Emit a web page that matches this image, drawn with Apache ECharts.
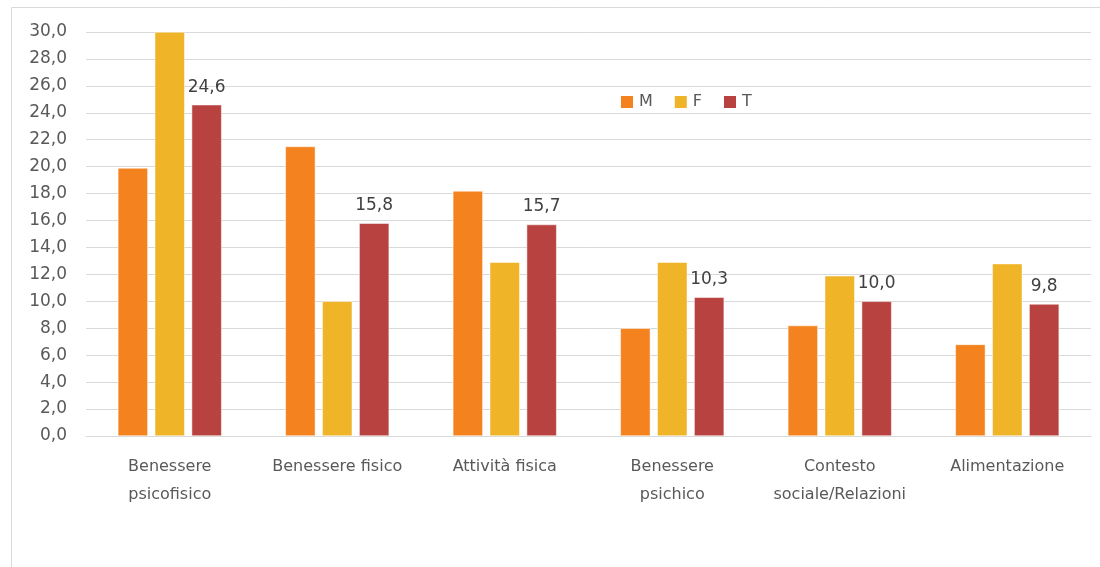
<!DOCTYPE html>
<html>
<head>
<meta charset="utf-8">
<script src="https://cdn.jsdelivr.net/npm/echarts@6/dist/echarts.min.js"></script>
<style>html,body{margin:0;padding:0;background:#fff;}#c{width:1100px;height:567px;}</style>
</head>
<body>
<div id="c"></div>
<script>
const categories = ["Benessere\npsicofisico", "Benessere fisico", "Attività fisica", "Benessere\npsichico", "Contesto\nsociale/Relazioni", "Alimentazione"];
const seriesM = [19.9, 21.5, 18.2, 8.0, 8.2, 6.8];
const seriesF = [30.0, 10.0, 12.9, 12.9, 11.9, 12.8];
const seriesT = [24.6, 15.8, 15.7, 10.3, 10.0, 9.8];
const yTicks = { min: 0, max: 30, interval: 2 };

const fmt = v => Number(v).toFixed(1).replace('.', ',');
const font = '"DejaVu Sans", "Noto Sans", sans-serif';

const chart = echarts.init(document.getElementById('c'), null, { renderer: 'canvas' });
chart.setOption({
  animation: false,
  backgroundColor: '#ffffff',
  graphic: [{
    type: 'rect', silent: true,
    shape: { x: 11.5, y: 7.5, width: 1200, height: 700 },
    style: { fill: 'none', stroke: '#d9d9d9', lineWidth: 1 }
  }],
  grid: { left: 86, right: 9, top: 32, bottom: 131, containLabel: false },
  legend: {
    data: ['M', 'F', 'T'],
    left: 619, top: 94, padding: 0,
    itemWidth: 14, itemHeight: 14, itemGap: 20,
    icon: 'rect',
    textStyle: { color: '#595959', fontSize: 16, fontFamily: font }
  },
  xAxis: {
    type: 'category',
    data: categories,
    axisLine: { lineStyle: { color: '#d9d9d9' } },
    axisTick: { show: false },
    axisLabel: { color: '#595959', fontSize: 16, fontFamily: font, lineHeight: 28, margin: 17, interval: 0 }
  },
  yAxis: {
    type: 'value',
    min: yTicks.min, max: yTicks.max, interval: yTicks.interval,
    axisLine: { show: false },
    axisTick: { show: false },
    splitLine: { lineStyle: { color: '#d9d9d9', width: 1 } },
    axisLabel: { color: '#595959', fontSize: 17, fontFamily: font, margin: 19, formatter: fmt }
  },
  series: [
    { name: 'M', type: 'bar', data: seriesM, barWidth: 30, barGap: '23%',
      itemStyle: { color: '#F4831F', borderColor: '#fff', borderWidth: 0.5 } },
    { name: 'F', type: 'bar', data: seriesF, barWidth: 30, barGap: '23%',
      itemStyle: { color: '#F0B429', borderColor: '#fff', borderWidth: 0.5 } },
    { name: 'T', type: 'bar', data: seriesT, barWidth: 30, barGap: '23%',
      itemStyle: { color: '#B8423F', borderColor: '#fff', borderWidth: 0.5 },
      label: { show: true, position: 'top', distance: 9, color: '#404040', fontSize: 17, fontFamily: font,
        formatter: p => fmt(p.value) } }
  ]
});
</script>
</body>
</html>
